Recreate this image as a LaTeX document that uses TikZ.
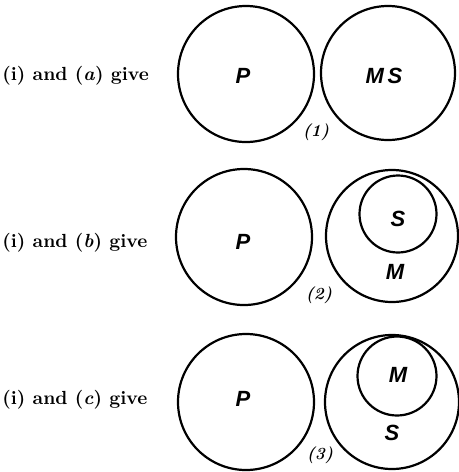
\documentclass[tikz,border=0pt]{standalone}
\usepackage{fontspec}
\newfontfamily\lblfont{Liberation Sans}
\begin{document}
\begin{tikzpicture}[x=0.5pt,y=-0.5pt,
  big/.style={circle,draw,line width=1.1pt,inner sep=0pt,minimum size=#1},
  setlbl/.style={inner sep=0pt,font=\lblfont\bfseries\itshape\fontsize{11}{12}\selectfont},
  numlbl/.style={inner sep=0pt,font=\bfseries\itshape\fontsize{8.5}{10}\selectfont},
  rowtext/.style={anchor=west,inner sep=0pt,font=\bfseries\fontsize{9.5}{12}\selectfont}]
\useasboundingbox (0,0) rectangle (459,472);
% row 1
\node[rowtext] (t1) at (2,76) {(i) and (\textit{a}) give};
\node[big=68pt] (p1) at (246,74) {};
\node[big=67pt] (ms1) at (388,73) {};
\node[setlbl] (lp1) at (243,76) {P};
\node[setlbl] (lms1) at (384,76) {M\,S};
\node[numlbl] (n1) at (316,132) {(1)};
% row 2
\node[rowtext] (t2) at (2,243) {(i) and (\textit{b}) give};
\node[big=68pt] (p2) at (244,237) {};
\node[big=66pt] (o2) at (392,236) {};
\node[big=38.5pt] (i2) at (398,214) {};
\node[setlbl] (lp2) at (243,242) {P};
\node[setlbl] (ls2) at (398,219) {S};
\node[setlbl] (lm2) at (395,272) {M};
\node[numlbl] (n2) at (319,295) {(2)};
% row 3
\node[rowtext] (t3) at (2,400) {(i) and (\textit{c}) give};
\node[big=68pt] (p3) at (246,402) {};
\node[big=67pt] (o3) at (392,402) {};
\node[big=39.5pt] (i3) at (397,376) {};
\node[setlbl] (lp3) at (243,399) {P};
\node[setlbl] (lm3) at (398,375) {M};
\node[setlbl] (ls3) at (392,433) {S};
\node[numlbl] (n3) at (320,455) {(3)};
\end{tikzpicture}
\end{document}
